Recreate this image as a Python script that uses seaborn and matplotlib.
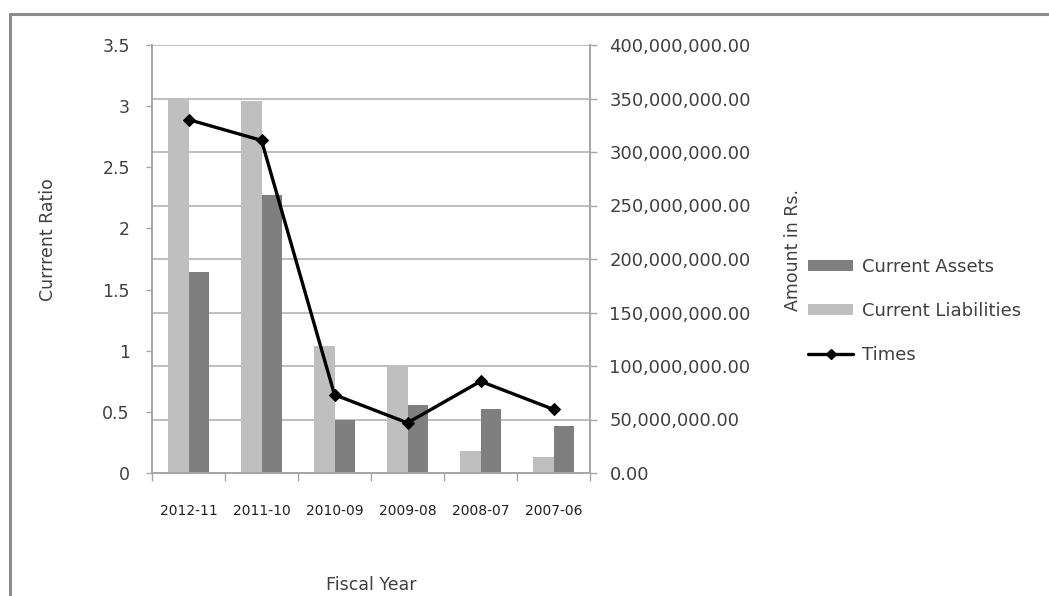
import numpy as np
import pandas as pd
import matplotlib
matplotlib.use("Agg")
import matplotlib.pyplot as plt
from matplotlib.lines import Line2D
from matplotlib.patches import Patch
from matplotlib.ticker import FuncFormatter, MultipleLocator
import seaborn as sns

# Fiscal years and values
years = ["2012-11", "2011-10", "2010-09", "2009-08", "2008-07", "2007-06"]
current_liabilities = [349.5e6, 348.0e6, 118.7e6, 98.8e6, 20.9e6, 14.6e6]
current_assets = [187.6e6, 259.8e6, 49.5e6, 63.5e6, 59.5e6, 43.9e6]
times = [2.89, 2.72, 0.64, 0.41, 0.75, 0.52]

sns.set_theme(style="white")
plt.rcParams["font.family"] = ["DejaVu Sans"]

LIGHT = "#BFBFBF"
DARK = "#7F7F7F"
AXIS_GRAY = "#A6A6A6"
GRID_GRAY = "#B3B3B3"
TEXT = "#404040"

amounts = pd.DataFrame({
    "year": years * 2,
    "amount": current_liabilities + current_assets,
    "series": ["Current Liabilities"] * len(years) + ["Current Assets"] * len(years),
})
ratio = pd.DataFrame({"pos": np.arange(len(years)), "times": times})

fig = plt.figure(figsize=(10.49, 5.96), dpi=100)
W, H = 1049, 596
left, right, top, bottom = 152, 590, 45, 473
ax_ratio = fig.add_axes([left / W, 1 - bottom / H, (right - left) / W, (bottom - top) / H])
ax_amt = ax_ratio.twinx()

# Amount bars on the right-hand axis
sns.barplot(data=amounts, x="year", y="amount", hue="series",
            hue_order=["Current Liabilities", "Current Assets"],
            palette=[LIGHT, DARK], width=0.55, gap=0, saturation=1,
            edgecolor="none", ax=ax_amt, legend=False)
ax_amt.set_ylim(0, 400e6)
ax_amt.yaxis.set_major_locator(MultipleLocator(50e6))
ax_amt.yaxis.set_major_formatter(FuncFormatter(lambda v, p: f"{v:,.2f}"))
ax_amt.grid(axis="y", color=GRID_GRAY, linewidth=1.2)
ax_amt.set_axisbelow(True)
ax_amt.set_xlabel("")
ax_amt.set_ylabel("")
ax_amt.tick_params(axis="y", which="major", direction="out", length=5, width=1,
                   color=AXIS_GRAY, labelsize=13, labelcolor=TEXT, pad=9,
                   right=True, left=False, labelright=True, labelleft=False)

# Current ratio line on the left-hand axis, drawn above the bars
sns.lineplot(data=ratio, x="pos", y="times", ax=ax_ratio, color="black",
             linewidth=2.4, marker="D", markersize=6, markeredgecolor="black")
ax_ratio.set_zorder(ax_amt.get_zorder() + 1)
ax_ratio.patch.set_visible(False)
ax_ratio.set_ylim(0, 3.5)
ax_ratio.yaxis.set_major_locator(MultipleLocator(0.5))
ax_ratio.yaxis.set_major_formatter(FuncFormatter(lambda v, p: f"{v:g}"))
ax_ratio.tick_params(axis="y", direction="out", length=4, width=1, color=AXIS_GRAY,
                     labelsize=12.5, labelcolor=TEXT, pad=12, left=True)
ax_ratio.set_xlabel("")
ax_ratio.set_ylabel("")

# Category axis: labels at centres, tick marks at boundaries
ax_ratio.set_xlim(-0.5, len(years) - 0.5)
ax_ratio.set_xticks(np.arange(len(years)))
ax_ratio.set_xticklabels(years)
ax_ratio.set_xticks(np.arange(len(years) + 1) - 0.5, minor=True)
ax_ratio.tick_params(axis="x", which="major", length=0, labelsize=10,
                     labelcolor="#202020", pad=22)
ax_ratio.tick_params(axis="x", which="minor", direction="out", length=6,
                     width=1, color=AXIS_GRAY, bottom=True)
ax_amt.tick_params(axis="x", which="both", length=0, labelbottom=False)

for a in (ax_ratio, ax_amt):
    a.spines["top"].set_visible(False)
    for side in ("left", "right", "bottom"):
        a.spines[side].set_color(AXIS_GRAY)
        a.spines[side].set_linewidth(1.2)

# Axis titles
fig.text(48 / W, 1 - 240 / H, "Currrent Ratio", rotation=90, ha="center",
         va="center", fontsize=12.5, color=TEXT)
fig.text(793 / W, 1 - 250 / H, "Amount in Rs.", rotation=90, ha="center",
         va="center", fontsize=12.5, color=TEXT)
fig.text(371 / W, 1 - 585 / H, "Fiscal Year", ha="center", va="center",
         fontsize=12.5, color=TEXT)

# Legend
handles = [
    Patch(facecolor=DARK, edgecolor="none", label="Current Assets"),
    Patch(facecolor=LIGHT, edgecolor="none", label="Current Liabilities"),
    Line2D([0], [0], color="black", linewidth=2.4, marker="D", markersize=5,
           label="Times"),
]
fig.legend(handles=handles, loc="center left", bbox_to_anchor=(801 / W, 1 - 311 / H),
           frameon=False, fontsize=13, labelcolor=TEXT, handlelength=2.5,
           handleheight=0.6, handletextpad=0.5, labelspacing=1.45,
           borderaxespad=0)

# Outer chart frame
frame_kw = dict(color="#8C8C8C", linewidth=2.2, transform=fig.transFigure)
fig.add_artist(Line2D([10 / W, 1.0], [1 - 14 / H, 1 - 14 / H], **frame_kw))
fig.add_artist(Line2D([10 / W, 10 / W], [0.0, 1 - 14 / H], **frame_kw))

fig.savefig("out.png", dpi=100, facecolor="white")
